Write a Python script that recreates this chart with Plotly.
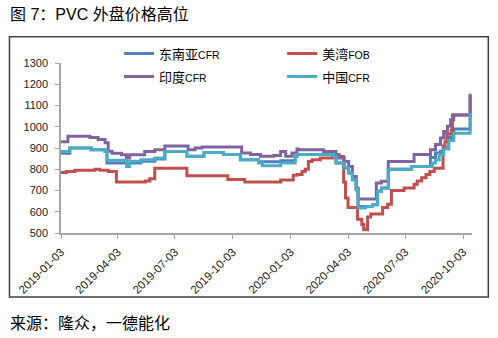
import plotly.graph_objects as go

# ---------------- data (change points, step series) ----------------
sea_dates = ["2019-01-03", "2019-01-17", "2019-02-20", "2019-03-14", "2019-03-17", "2019-05-10",
             "2019-06-01", "2019-06-17", "2019-07-22", "2019-08-18", "2019-09-18", "2019-10-15",
             "2019-11-13", "2019-12-18", "2020-01-10", "2020-01-13", "2020-03-10", "2020-03-15",
             "2020-03-28", "2020-04-04", "2020-04-10", "2020-04-16", "2020-04-19", "2020-05-12",
             "2020-05-20", "2020-05-26", "2020-06-06", "2020-07-13", "2020-08-12", "2020-08-20",
             "2020-08-28", "2020-09-02", "2020-09-10", "2020-09-18", "2020-10-14"]
sea_vals = [875, 900, 892, 884, 830, 838,
            848, 884, 861, 879, 869, 845,
            835, 840, 861, 869, 861, 829,
            806, 782, 751, 704, 625, 633,
            696, 712, 800, 813, 855, 877,
            885, 900, 950, 990, 1050]

usg_dates = ["2019-01-03", "2019-01-12", "2019-01-25", "2019-02-26", "2019-03-06", "2019-03-19",
             "2019-04-01", "2019-05-17", "2019-05-24", "2019-06-01", "2019-07-22", "2019-09-25",
             "2019-10-22", "2019-12-18", "2020-01-07", "2020-01-13", "2020-01-21", "2020-01-26",
             "2020-01-31", "2020-02-06", "2020-02-19", "2020-03-10", "2020-03-27", "2020-03-30",
             "2020-04-03", "2020-04-18", "2020-04-25", "2020-04-28", "2020-05-04", "2020-05-09",
             "2020-05-28", "2020-06-05", "2020-06-11", "2020-07-01", "2020-07-17", "2020-07-22",
             "2020-07-29", "2020-08-05", "2020-08-11", "2020-08-18", "2020-09-01", "2020-09-04",
             "2020-09-07", "2020-09-14", "2020-09-16", "2020-10-14"]
usg_vals = [785, 790, 795, 800, 795, 790,
            740, 745, 755, 805, 770, 752,
            740, 750, 772, 775, 790, 800,
            837, 845, 853, 860, 740, 665,
            620, 565, 540, 515, 575, 590,
            620, 635, 700, 712, 730, 745,
            760, 775, 790, 805, 910, 930,
            965, 985, 1055, 1155]

ind_dates = ["2019-01-03", "2019-01-14", "2019-02-18", "2019-03-03", "2019-03-14", "2019-03-19",
             "2019-03-25", "2019-04-09", "2019-04-17", "2019-04-22", "2019-05-16", "2019-06-01",
             "2019-06-17", "2019-07-24", "2019-08-04", "2019-08-15", "2019-10-17", "2019-10-31",
             "2019-11-16", "2019-12-07", "2019-12-18", "2019-12-26", "2020-01-05", "2020-01-13",
             "2020-01-15", "2020-02-24", "2020-03-15", "2020-03-20", "2020-03-28", "2020-04-04",
             "2020-04-10", "2020-04-16", "2020-04-19", "2020-05-18", "2020-05-26", "2020-06-06",
             "2020-07-17", "2020-08-12", "2020-08-20", "2020-08-28", "2020-09-02", "2020-09-08",
             "2020-09-13", "2020-09-18", "2020-10-14"]
ind_vals = [930, 955, 950, 940, 925, 885,
            875, 868, 853, 868, 884, 892,
            910, 892, 900, 905, 876, 869,
            861, 865, 884, 861, 876, 895,
            892, 884, 869, 853, 837, 813,
            766, 712, 660, 735, 743, 837,
            869, 892, 916, 947, 978, 1002,
            1033, 1055, 1150]

chn_dates = ["2019-01-03", "2019-01-17", "2019-02-20", "2019-03-14", "2019-03-17", "2019-04-17",
             "2019-04-22", "2019-05-10", "2019-06-01", "2019-06-17", "2019-07-22", "2019-08-18",
             "2019-09-18", "2019-10-15", "2019-11-13", "2019-11-19", "2019-12-18", "2020-01-10",
             "2020-01-13", "2020-03-10", "2020-03-15", "2020-03-28", "2020-04-04", "2020-04-10",
             "2020-04-16", "2020-04-19", "2020-05-01", "2020-05-12", "2020-05-20", "2020-05-26",
             "2020-06-06", "2020-07-13", "2020-08-15", "2020-08-20", "2020-08-26", "2020-09-02",
             "2020-09-10", "2020-09-18", "2020-10-14"]
chn_vals = [884, 900, 892, 884, 842, 813,
            838, 845, 853, 884, 861, 879,
            869, 845, 829, 817, 829, 861,
            869, 861, 829, 806, 782, 751,
            704, 618, 625, 633, 696, 712,
            800, 813, 830, 845, 869, 895,
            935, 970, 1065]

tick_dates = ["2019-01-03", "2019-04-03", "2019-07-03", "2019-10-03",
              "2020-01-03", "2020-04-03", "2020-07-03", "2020-10-03"]
tick_labels = tick_dates

# ---------------- figure ----------------
small = "<span style='font-size:10.5px;font-family:Liberation Sans'>{}</span>"
series = [
    ("东南亚" + small.format("CFR"), sea_dates, sea_vals, "#4F81BD", "legend"),
    ("美湾" + small.format("FOB"), usg_dates, usg_vals, "#C0504D", "legend2"),
    ("印度" + small.format("CFR"), ind_dates, ind_vals, "#8064A2", "legend"),
    ("中国" + small.format("CFR"), chn_dates, chn_vals, "#4BACC6", "legend2"),
]

fig = go.Figure()
for i, (name, d, v, c, lg) in enumerate(series):
    fig.add_trace(go.Scatter(x=d, y=v, name=name, mode="lines", line_shape="hv",
                             line=dict(color=c, width=3), legend=lg, legendgroup=str(i)))

L, R, T, B = 61, 26.3, 63.3, 105
W, H = 498 - L - R, 338 - T - B

def px(x):
    return (x - L) / W

def py(y):
    return (338 - B - y) / H

legfont = dict(family="Noto Sans CJK SC", size=13, color="#000000")
fig.update_layout(
    width=498, height=338,
    margin=dict(l=L, r=R, t=T, b=B),
    paper_bgcolor="white", plot_bgcolor="white",
    showlegend=True,
    legend=dict(x=px(119), y=py(39), xanchor="left", yanchor="top", orientation="v",
                font=legfont, itemwidth=30, tracegroupgap=3, bgcolor="rgba(0,0,0,0)"),
    legend2=dict(x=px(282), y=py(39), xanchor="left", yanchor="top", orientation="v",
                 font=legfont, itemwidth=30, tracegroupgap=3, bgcolor="rgba(0,0,0,0)"),
    xaxis=dict(type="date", range=["2019-01-03", "2020-10-17"], tickvals=tick_dates,
               ticktext=tick_labels, tickangle=-45, showgrid=False, showline=True,
               linecolor="#A6A6A6", linewidth=1.5, ticks="outside", ticklen=4, tickcolor="#A6A6A6",
               tickfont=dict(family="Liberation Sans", size=11.5, color="#222222"), zeroline=False,
               ticklabelstandoff=2),
    yaxis=dict(range=[500, 1300], dtick=100, showgrid=False, showline=True,
               linecolor="#A6A6A6", linewidth=1.5, ticks="outside", ticklen=4, tickcolor="#A6A6A6",
               tickfont=dict(family="Liberation Sans", size=11, color="#222222"), zeroline=False,
               ticklabelstandoff=5),
    shapes=[dict(type="rect", xref="paper", yref="paper", x0=px(9.5), x1=px(488), y0=py(297), y1=py(37),
                 line=dict(color="#404040", width=1.5), layer="above")],
    annotations=[
        dict(text="图 7：PVC 外盘价格高位", xref="paper", yref="paper", x=px(8), y=py(14),
             xanchor="left", yanchor="middle", showarrow=False,
             font=dict(family="Liberation Sans, Noto Sans CJK SC", size=16, color="#000000")),
        dict(text="来源：隆众，一德能化", xref="paper", yref="paper", x=px(8), y=py(322),
             xanchor="left", yanchor="middle", showarrow=False,
             font=dict(family="Noto Sans CJK SC", size=16, color="#000000")),
    ],
)

fig.write_html("out.html")
